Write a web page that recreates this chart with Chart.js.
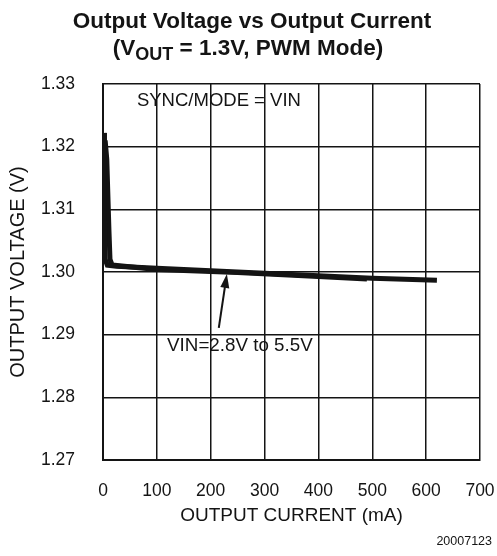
<!DOCTYPE html>
<html>
<head>
<meta charset="utf-8">
<script src="https://cdn.jsdelivr.net/npm/chart.js@4.4.1/dist/chart.umd.min.js"></script>
<style>
  html, body { margin: 0; padding: 0; background: #fff; }
  #wrap { width: 497px; height: 556px; }
</style>
</head>
<body>
<div id="wrap"><canvas id="voutChart" width="497" height="556"></canvas></div>
<script>
// values (mA, V)
const currentA = [2, 2.5, 3, 4, 8, 25, 100, 200, 300, 400, 500, 620];
const voltageA = [1.3222, 1.316, 1.308, 1.302, 1.3011, 1.3009, 1.3006, 1.3002, 1.2998, 1.2994, 1.2990, 1.2987];
const currentB = [4, 7, 11, 13, 17, 100, 250, 400, 490];
const voltageB = [1.3210, 1.318, 1.3067, 1.302, 1.3011, 1.3004, 1.2999, 1.2993, 1.2989];

const xTicks = [0, 100, 200, 300, 400, 500, 600, 700];
const yTicks = [1.27, 1.28, 1.29, 1.30, 1.31, 1.32, 1.33];

const ink = "#141414";
const font = "'Liberation Sans', Arial, sans-serif";

function toPoints(xs, ys) {
    return xs.map((x, i) => ({ x: x, y: ys[i] }));
}

// title, notes, arrow and figure number
const extras = {
    id: "extras",
    afterDraw(chart) {
        const c = chart.ctx;
        const xs = chart.scales.x;
        const ys = chart.scales.y;
        c.save();
        c.fillStyle = ink;
        c.strokeStyle = ink;

        // title
        c.textAlign = "center";
        c.textBaseline = "alphabetic";
        c.font = "bold 22.5px " + font;
        c.fillText("Output Voltage vs Output Current", 252, 28);
        const p1 = "(V", sub = "OUT", p2 = " = 1.3V, PWM Mode)";
        const w1 = c.measureText(p1).width, w3 = c.measureText(p2).width;
        c.font = "bold 18px " + font;
        const w2 = c.measureText(sub).width;
        let x0 = 248 - (w1 + w2 + w3) / 2;
        c.textAlign = "left";
        c.font = "bold 22.5px " + font;
        c.fillText(p1, x0, 55);
        c.font = "bold 18px " + font;
        c.fillText(sub, x0 + w1, 60);
        c.font = "bold 22.5px " + font;
        c.fillText(p2, x0 + w1 + w2, 55);

        // notes inside the plot
        c.textBaseline = "middle";
        c.font = "18.5px " + font;
        c.fillText("SYNC/MODE = VIN", xs.getPixelForValue(63), ys.getPixelForValue(1.3273));
        c.font = "18.8px " + font;
        c.fillText("VIN=2.8V to 5.5V", xs.getPixelForValue(119), ys.getPixelForValue(1.2882));

        // arrow
        const tx = xs.getPixelForValue(215), ty = ys.getPixelForValue(1.2911);
        const hx = xs.getPixelForValue(230), hy = ys.getPixelForValue(1.2997);
        const ang = Math.atan2(hy - ty, hx - tx);
        c.lineWidth = 2;
        c.beginPath();
        c.moveTo(tx, ty);
        c.lineTo(hx - 10 * Math.cos(ang), hy - 10 * Math.sin(ang));
        c.stroke();
        c.beginPath();
        c.moveTo(hx, hy);
        c.lineTo(hx - 14 * Math.cos(ang) + 4.5 * Math.sin(ang), hy - 14 * Math.sin(ang) - 4.5 * Math.cos(ang));
        c.lineTo(hx - 14 * Math.cos(ang) - 4.5 * Math.sin(ang), hy - 14 * Math.sin(ang) + 4.5 * Math.cos(ang));
        c.closePath();
        c.fill();

        // figure number
        c.font = "12.5px " + font;
        c.textAlign = "right";
        c.fillText("20007123", 492, 542);
        c.restore();
    }
};

const ctx = document.getElementById("voutChart").getContext("2d");
const voutChart = new Chart(ctx, {
    type: "line",
    data: {
        datasets: [
            {
                label: "VIN A",
                data: toPoints(currentA, voltageA),
                borderColor: ink,
                borderWidth: 5,
                pointRadius: 0,
                tension: 0
            },
            {
                label: "VIN B",
                data: toPoints(currentB, voltageB),
                borderColor: ink,
                borderWidth: 5,
                pointRadius: 0,
                tension: 0
            }
        ]
    },
    options: {
        responsive: false,
        animation: false,
        layout: { padding: { top: 84, right: 17, left: 0, bottom: 0 } },
        plugins: {
            legend: { display: false },
            tooltip: { enabled: false }
        },
        scales: {
            x: {
                type: "linear",
                min: 0,
                max: 700,
                afterBuildTicks: (s) => { s.ticks = xTicks.map(v => ({ value: v })); },
                afterFit: (s) => { s.height = 96; s.paddingLeft = 0; s.paddingRight = 0; },
                grid: { color: ink, lineWidth: 1.5, drawTicks: false },
                border: { color: ink, width: 2 },
                ticks: { color: ink, font: { family: font, size: 17.5 }, padding: 21, maxRotation: 0 },
                title: {
                    display: true,
                    text: "OUTPUT CURRENT (mA)",
                    color: ink,
                    font: { family: font, size: 19 },
                    padding: { top: 0, bottom: 29 }
                }
            },
            y: {
                min: 1.27,
                max: 1.33,
                afterBuildTicks: (s) => { s.ticks = yTicks.map(v => ({ value: v })); },
                afterFit: (s) => { s.width = 103; s.paddingTop = 0; s.paddingBottom = 0; },
                grid: { color: ink, lineWidth: 1.5, drawTicks: false },
                border: { color: ink, width: 2 },
                ticks: {
                    color: ink,
                    font: { family: font, size: 17.5 },
                    padding: 28,
                    callback: (v) => v.toFixed(2)
                },
                title: {
                    display: true,
                    text: "OUTPUT VOLTAGE (V)",
                    color: ink,
                    font: { family: font, size: 20 },
                    padding: { top: 6, bottom: 0 }
                }
            }
        }
    },
    plugins: [extras]
});
</script>
</body>
</html>
